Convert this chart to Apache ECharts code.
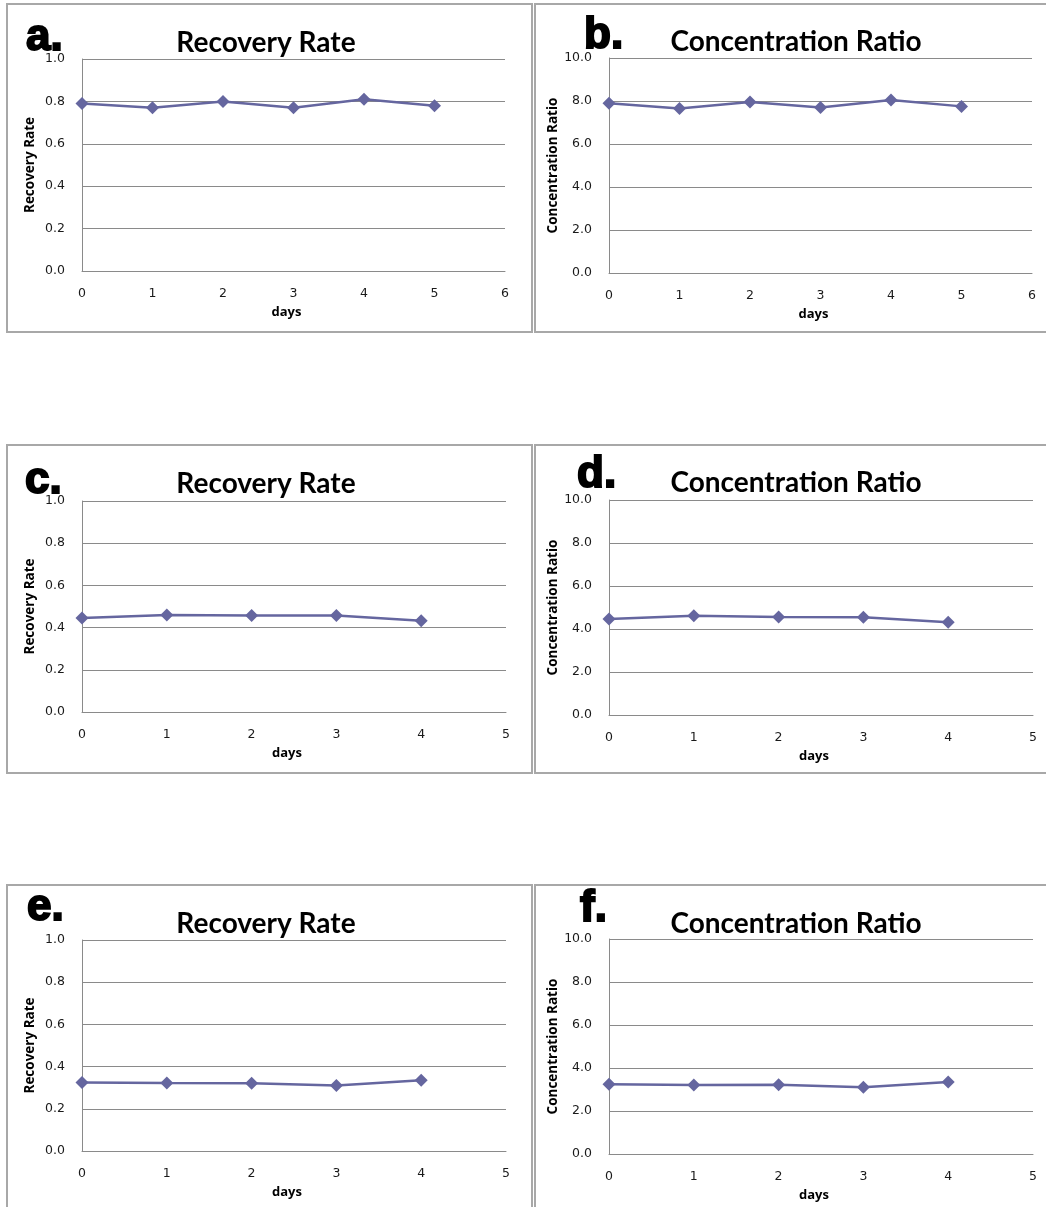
<!DOCTYPE html>
<html>
<head>
<meta charset="utf-8">
<script src="https://cdn.jsdelivr.net/npm/echarts@6/dist/echarts.min.js"></script>
<style>
html,body{margin:0;padding:0;background:#fff;}
#c{width:1046px;height:1207px;}
</style>
</head>
<body>
<div id="c"></div>
<script>
// ---- data ----
const daysA = [0, 1, 2, 3, 4, 5];
const recoveryA = [0.79, 0.77, 0.80, 0.77, 0.81, 0.78];
const concentrationB = [7.9, 7.65, 7.95, 7.7, 8.05, 7.75];
const daysC = [0, 1, 2, 3, 4];
const recoveryC = [0.445, 0.46, 0.457, 0.457, 0.432];
const concentrationD = [4.47, 4.62, 4.56, 4.55, 4.31];
const daysE = [0, 1, 2, 3, 4];
const recoveryE = [0.325, 0.322, 0.321, 0.31, 0.335];
const concentrationF = [3.24, 3.21, 3.22, 3.11, 3.35];
const panelLetters = ['a.', 'b.', 'c.', 'd.', 'e.', 'f.'];
const panelTitles = ['Recovery Rate', 'Concentration Ratio', 'Recovery Rate', 'Concentration Ratio', 'Recovery Rate', 'Concentration Ratio'];
const yAxisNames = ['Recovery Rate', 'Concentration Ratio', 'Recovery Rate', 'Concentration Ratio', 'Recovery Rate', 'Concentration Ratio'];
const xAxisName = 'days';
const xMax = [6, 6, 5, 5, 5, 5];
const yMax = [1.0, 10.0, 1.0, 10.0, 1.0, 10.0];
const yInterval = [0.2, 2.0, 0.2, 2.0, 0.2, 2.0];

const panels = [
  {x: daysA, y: recoveryA},
  {x: daysA, y: concentrationB},
  {x: daysC, y: recoveryC},
  {x: daysC, y: concentrationD},
  {x: daysE, y: recoveryE},
  {x: daysE, y: concentrationF}
];

// ---- layout ----
const grids = [
  {left: 82, top: 59, width: 423, height: 212},
  {left: 609, top: 58, width: 423, height: 215},
  {left: 82, top: 501, width: 424, height: 211},
  {left: 609, top: 500, width: 424, height: 215},
  {left: 82, top: 940, width: 424, height: 211},
  {left: 609, top: 939, width: 424, height: 215}
];
const letterPos = [[26, 38], [584, 36], [25, 481], [577, 475], [27, 908], [580, 909]];
const titlePos = [[266, 43], [796, 42], [266, 484], [796, 483], [266, 924], [796, 924]];
const yNameGap = [45, 49, 45, 49, 45, 49];

const gridColor = '#8a8a8a';
const lineColor = '#65669f';
const labelColor = '#1a1a1a';

const option = {
  animation: false,
  backgroundColor: '#fff',
  grid: grids.map(g => Object.assign({containLabel: false}, g)),
  xAxis: grids.map((g, i) => ({
    type: 'value', gridIndex: i, min: 0, max: xMax[i], interval: 1,
    name: xAxisName, nameLocation: 'middle', nameGap: 35,
    nameTextStyle: {fontFamily: 'Open Sans', fontWeight: 'bold', fontSize: 13, color: '#000', padding: [0, 14, 0, 0]},
    axisLine: {show: true, lineStyle: {color: gridColor, width: 1}},
    axisTick: {show: false},
    splitLine: {show: false},
    axisLabel: {margin: 16, fontFamily: 'DejaVu Sans', fontSize: 12.5, color: labelColor}
  })),
  yAxis: grids.map((g, i) => ({
    type: 'value', gridIndex: i, min: 0, max: yMax[i], interval: yInterval[i],
    name: yAxisNames[i], nameLocation: 'middle', nameGap: yNameGap[i],
    nameTextStyle: {fontFamily: 'Open Sans', fontWeight: 'bold', fontSize: 13.5, color: '#000'},
    axisLine: {show: true, lineStyle: {color: gridColor, width: 1}},
    axisTick: {show: false},
    splitLine: {show: true, lineStyle: {color: gridColor, width: 1}},
    axisLabel: {margin: 17, fontFamily: 'DejaVu Sans', fontSize: 12.5, color: labelColor,
      formatter: v => v.toFixed(1)}
  })),
  series: panels.map((p, i) => ({
    type: 'line', xAxisIndex: i, yAxisIndex: i,
    data: p.x.map((d, k) => [d, p.y[k]]),
    symbol: 'diamond', symbolSize: 13,
    lineStyle: {color: lineColor, width: 2.5},
    itemStyle: {color: lineColor},
    z: 3
  })),
  graphic: [
    // panel borders
    {type: 'rect', shape: {x: 7, y: 4, width: 525, height: 328}, style: {fill: 'none', stroke: '#a8a8a8', lineWidth: 2}, silent: true},
    {type: 'rect', shape: {x: 535, y: 4, width: 520, height: 328}, style: {fill: 'none', stroke: '#a8a8a8', lineWidth: 2}, silent: true},
    {type: 'rect', shape: {x: 7, y: 445, width: 525, height: 328}, style: {fill: 'none', stroke: '#a8a8a8', lineWidth: 2}, silent: true},
    {type: 'rect', shape: {x: 535, y: 445, width: 520, height: 328}, style: {fill: 'none', stroke: '#a8a8a8', lineWidth: 2}, silent: true},
    {type: 'rect', shape: {x: 7, y: 885, width: 525, height: 340}, style: {fill: 'none', stroke: '#a8a8a8', lineWidth: 2}, silent: true},
    {type: 'rect', shape: {x: 535, y: 885, width: 520, height: 340}, style: {fill: 'none', stroke: '#a8a8a8', lineWidth: 2}, silent: true}
  ].concat(panelTitles.map((t, i) => ({
    type: 'text', x: titlePos[i][0], y: titlePos[i][1], z: 10,
    style: {text: t, fontFamily: 'Lato', fontWeight: 'bold', fontSize: 28, fill: '#000', align: 'center', verticalAlign: 'middle'}
  }))).concat(panelLetters.map((t, i) => ({
    type: 'text', x: letterPos[i][0], y: letterPos[i][1], z: 10,
    style: {text: t, fontFamily: 'Liberation Sans', fontWeight: 'bold', fontSize: 44, fill: '#000', stroke: '#000', lineWidth: 2, align: 'left', verticalAlign: 'middle'}
  })))
};

const chart = echarts.init(document.getElementById('c'), null, {renderer: 'canvas'});
chart.setOption(option);
</script>
</body>
</html>
